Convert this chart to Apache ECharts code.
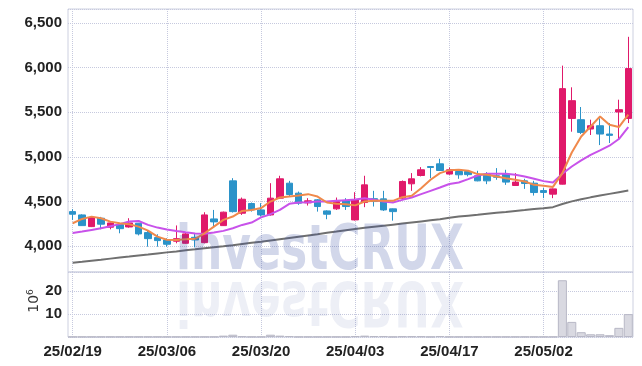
<!DOCTYPE html>
<html><head><meta charset="utf-8">
<script src="https://cdn.jsdelivr.net/npm/echarts@6/dist/echarts.min.js"></script>
<style>html,body{margin:0;padding:0;background:#fff}#c{width:642px;height:366px}</style>
</head><body><div id="c"></div>
<script>
const dates = ["25/02/19","25/02/20","25/02/21","25/02/24","25/02/25","25/02/26","25/02/27","25/02/28","25/03/04","25/03/05",
"25/03/06","25/03/07","25/03/10","25/03/11","25/03/12","25/03/13","25/03/14","25/03/17","25/03/18","25/03/19",
"25/03/20","25/03/21","25/03/24","25/03/25","25/03/26","25/03/27","25/03/28","25/03/31","25/04/01","25/04/02",
"25/04/03","25/04/04","25/04/07","25/04/08","25/04/09","25/04/10","25/04/11","25/04/14","25/04/15","25/04/16",
"25/04/17","25/04/18","25/04/21","25/04/22","25/04/23","25/04/24","25/04/25","25/04/28","25/04/29","25/04/30",
"25/05/02","25/05/07","25/05/08","25/05/09","25/05/12","25/05/13","25/05/14","25/05/15","25/05/16","25/05/19"];

const openP  = [4385,4348,4217,4311,4210,4240,4213,4255,4150,4094, 4067,4053,4030,4097,4037,4303,4228,4730,4367,4476,
                4404,4348,4536,4704,4592,4483,4517,4393,4416,4506, 4292,4487,4530,4528,4416,4536,4697,4790,4891,4921,
                4806,4835,4835,4787,4806,4787,4806,4678,4730,4704, 4621,4581,4693,5430,5416,5311,5348,5255,5502,5430];
const closeP = [4356,4228,4318,4244,4258,4194,4258,4135,4082,4060, 4019,4082,4135,4067,4348,4270,4379,4385,4524,4404,
                4348,4536,4753,4577,4480,4506,4442,4356,4498,4442, 4517,4685,4498,4404,4385,4723,4753,4854,4880,4846,
                4854,4798,4800,4730,4730,4770,4716,4716,4700,4599, 4600,4640,5764,5629,5273,5348,5255,5240,5528,5989];
const lowP   = [4292,4225,4212,4187,4187,4142,4205,4118,3992,3992, 3992,4030,4025,3985,4030,4217,4225,4375,4348,4385,
                4330,4340,4530,4554,4461,4453,4385,4300,4404,4404, 4285,4435,4442,4393,4284,4530,4618,4780,4760,4840,
                4798,4753,4780,4725,4693,4742,4685,4675,4640,4565, 4536,4536,4690,5281,5255,5244,5131,5154,5199,5378];
const highP  = [4412,4355,4322,4326,4262,4250,4311,4258,4168,4131, 4086,4230,4150,4142,4378,4404,4385,4760,4543,4487,
                4480,4704,4787,4730,4610,4536,4525,4400,4543,4536, 4603,4787,4618,4618,4420,4734,4817,4884,4895,4978,
                4880,4840,4840,4843,4828,4873,4854,4817,4753,4730, 4650,4645,6022,5779,5558,5416,5431,5378,5640,6345];

const ma5  = [4255,4303,4329,4311,4273,4255,4244,4217,4172,4105, 4070,4068,4075,4080,4142,4217,4292,4330,4393,4404,
              4425,4498,4543,4554,4565,4581,4554,4487,4472,4468, 4455,4498,4506,4506,4506,4547,4562,4648,4742,4817,
              4850,4854,4843,4806,4798,4779,4760,4742,4723,4685, 4675,4662,4817,5048,5228,5340,5453,5360,5333,5472];
const ma20 = [4146,4161,4180,4199,4222,4245,4275,4280,4236,4206, 4185,4169,4154,4140,4136,4150,4169,4199,4236,4262,
              4320,4356,4404,4472,4487,4491,4498,4498,4506,4513, 4520,4536,4517,4498,4487,4517,4543,4581,4618,4655,
              4695,4712,4749,4790,4809,4809,4809,4798,4779,4753, 4727,4712,4809,4891,4959,5022,5071,5124,5199,5333];
const maLong = [3812,3823,3835,3846,3858,3870,3881,3893,3904,3916, 3928,3939,3951,3962,3974,3986,3997,4009,4022,4035,
                4048,4062,4076,4090,4104,4118,4132,4147,4161,4176, 4191,4203,4215,4227,4239,4251,4263,4275,4287,4299,
                4316,4329,4340,4350,4361,4372,4382,4393,4403,4414, 4424,4435,4470,4500,4523,4545,4565,4584,4603,4621];

const volume = [0.1,0.1,0.1,0.1,0.1,0.1,0.1,0.1,0.1,0.1, 0.1,0.1,0.1,0.1,0.1,0.1,0.6,1.0,0.3,0.1,
                0.1,1.0,0.6,0.4,0.1,0.1,0.1,0.1,0.1,0.1, 0.4,0.6,0.4,0.4,0.1,0.3,0.3,0.3,0.1,0.4,
                0.1,0.1,0.1,0.1,0.1,0.1,0.1,0.1,0.1,0.1, 0.1,0.1,24.8,6.6,2.1,1.2,1.2,0.8,4.0,10.0];

const candles = openP.map((o, i) => [o, closeP[i], lowP[i], highP[i]]);

const UP = '#e0196a', DOWN = '#2b93c9';
const gridLine = {type:'dotted', color:'#c6c9de', width:1};
const labelFont = '"Liberation Sans Narrow", "Liberation Sans", sans-serif';
const fmt = v => String(v).replace(/\B(?=(\d{3})+(?!\d))/g, ',');

const chart = echarts.init(document.getElementById('c'), null, {renderer:'canvas'});
chart.setOption({
  animation: false,
  backgroundColor: '#ffffff',
  grid: [
    {left:68, right:9, top:9, height:263, show:true, borderColor:'#cdd0e0', borderWidth:1},
    {left:68, right:9, top:272, height:65, show:true, borderColor:'#cdd0e0', borderWidth:1}
  ],
  xAxis: [
    {type:'category', gridIndex:0, data:dates, boundaryGap:true,
     axisLine:{show:false}, axisTick:{show:false}, axisLabel:{show:false},
     splitLine:{show:true, interval:9, alignWithLabel:true, lineStyle:gridLine}},
    {type:'category', gridIndex:1, data:dates, boundaryGap:true,
     axisLine:{show:false}, axisTick:{show:false},
     axisLabel:{interval:9, color:'#222', fontFamily:labelFont, fontWeight:'bold', fontSize:15, margin:7},
     splitLine:{show:true, interval:9, alignWithLabel:true, lineStyle:gridLine}}
  ],
  yAxis: [
    {type:'value', gridIndex:0, min:3708, max:6657, splitNumber:6, scale:true,
     axisLine:{show:false}, axisTick:{show:false},
     axisLabel:{showMinLabel:false, showMaxLabel:false, formatter:fmt, color:'#222',
                fontFamily:labelFont, fontWeight:'bold', fontSize:15, margin:6},
     splitLine:{show:true, lineStyle:gridLine}},
    {type:'value', gridIndex:1, min:0, max:28.4, interval:10,
     axisLine:{show:false}, axisTick:{show:false},
     axisLabel:{showMinLabel:false, showMaxLabel:false, color:'#222',
                fontFamily:labelFont, fontWeight:'bold', fontSize:15, margin:6},
     splitLine:{show:true, lineStyle:gridLine}}
  ],
  series: [
    {type:'bar', xAxisIndex:1, yAxisIndex:1, data:volume, barCategoryGap:'4%',
     itemStyle:{color:'#d9d9e1', borderColor:'#b8b8c6', borderWidth:1}, z:2},
    {type:'candlestick', xAxisIndex:0, yAxisIndex:0, data:candles, barWidth:'74%',
     itemStyle:{color:UP, color0:DOWN, borderColor:UP, borderColor0:DOWN, borderWidth:1}, z:3},
    {type:'line', xAxisIndex:0, yAxisIndex:0, data:maLong, symbol:'none',
     lineStyle:{color:'#707070', width:2}, z:4},
    {type:'line', xAxisIndex:0, yAxisIndex:0, data:ma20, symbol:'none',
     lineStyle:{color:'#c852ea', width:2}, z:4},
    {type:'line', xAxisIndex:0, yAxisIndex:0, data:ma5, symbol:'none',
     lineStyle:{color:'#f0894b', width:2}, z:5}
  ],
  graphic: [
    {type:'text', x:320, y:253, scaleX:0.71, z:100, silent:true,
     style:{text:'investCRUX', x:0, y:0, align:'center', verticalAlign:'middle',
            font:'bold 62px "DejaVu Sans", sans-serif', fill:'rgba(50,75,160,0.22)'}},
    {type:'text', x:320, y:298, scaleX:0.71, scaleY:-1, z:100, silent:true,
     style:{text:'investCRUX', x:0, y:0, align:'center', verticalAlign:'middle',
            font:'bold 62px "DejaVu Sans", sans-serif', fill:'rgba(50,75,160,0.09)'}},
    {type:'text', x:34, y:301, rotation:Math.PI/2, z:100, silent:true,
     style:{text:'10{s|6}', x:0, y:0, align:'center', verticalAlign:'middle',
            font:'14px "DejaVu Sans", sans-serif', fill:'#333',
            rich:{s:{fontSize:9, fontFamily:'DejaVu Sans', verticalAlign:'top', padding:[0,0,7,0], fill:'#333'}}}}
  ]
});
</script>
</body></html>
